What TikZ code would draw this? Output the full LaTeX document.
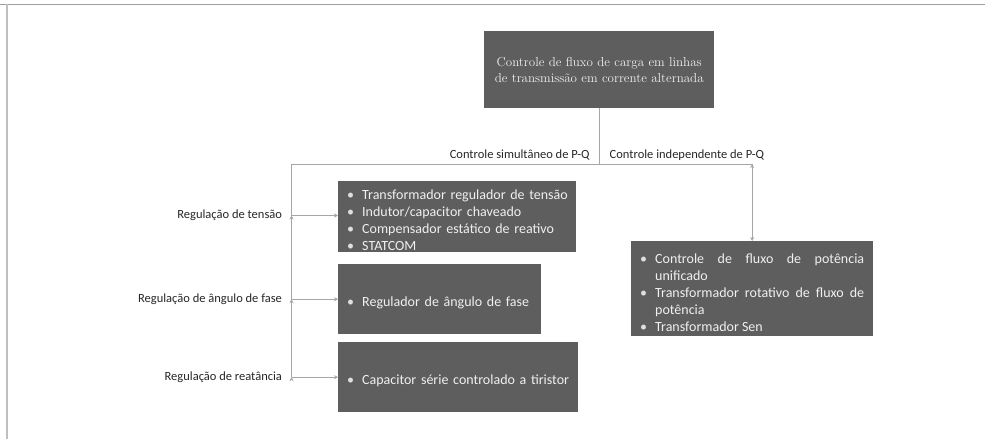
\documentclass[tikz,border=0pt]{standalone}
\usepackage{fontspec}
\setsansfont{Carlito}
\usepackage{enumitem}
\usetikzlibrary{positioning,arrows.meta}
\definecolor{boxgray}{HTML}{5E5E5E}
\definecolor{linegray}{HTML}{A6A6A6}
\hyphenpenalty=10000
\exhyphenpenalty=10000
\tolerance=9999
\setlist[itemize]{nosep,leftmargin=14pt,labelsep=8pt,rightmargin=-10pt,label=\textcolor{white!80!boxgray}{\textbullet}}
\tikzset{box/.style={fill=boxgray,text=white!94!black,anchor=north west,inner xsep=10pt,inner ysep=3pt,font=\sffamily\fontsize{14}{17}\selectfont},
lbl/.style={font=\sffamily\fontsize{12.5}{15}\selectfont,text=black!85},
link/.style={draw=linegray,line width=0.9pt,>={Stealth[length=4pt,width=4pt]}}}

\begin{document}
\begin{tikzpicture}[x=1pt,y=-1pt]
\useasboundingbox (0,0) rectangle (985,439);
\draw[gray!75,line width=1.2pt] (0,4.5) -- (985,4.5);
\draw[gray!50,line width=1.2pt] (7,4) -- (7,439);
\node[box,font=\rmfamily\fontsize{13}{16}\selectfont,text width=214pt,inner xsep=8pt,minimum height=77pt,align=center] (top) at (484,31) {Controle de fluxo de carga em linhas\\de transmissão em corrente alternada};
\node[box,text width=218pt,inner ysep=0.5pt,minimum height=71pt] (b1) at (338,181) {\begin{itemize}
\item Transformador regulador de tensão
\item Indutor/capacitor chaveado
\item Compensador estático de reativo
\item STATCOM
\end{itemize}};
\node[box,text width=183pt,minimum height=70pt] (b2) at (338,264) {\begin{itemize}
\item Regulador de ângulo de fase
\end{itemize}};
\node[box,text width=220pt,minimum height=70pt] (b3) at (338,342) {\begin{itemize}
\item Capacitor série controlado a tiristor
\end{itemize}};
\node[box,text width=224pt,inner xsep=9pt,minimum height=95pt,align=justify] (b4) at (631,241) {\begin{itemize}[leftmargin=15pt,rightmargin=0pt]
\item Controle de fluxo de potência unificado
\item Transformador rotativo de fluxo de potência
\item Transformador Sen
\end{itemize}};
\coordinate (j) at (top.south |- 0,164);
\coordinate (l) at (291.5,164);
\coordinate (r) at (b4.north |- 0,164);
\coordinate (t1) at (l |- 0,215.5);
\coordinate (t2) at (l |- b2.west);
\coordinate (t3) at (l |- b3.west);
\node[lbl,above left=0pt and 6pt of j] (s) {Controle simultâneo de P-Q};
\node[lbl,above right=0pt and 7pt of j] (i) {Controle independente de P-Q};
\node[lbl,left=6pt of t1] (r1) {Regulação de tensão};
\node[lbl,left=6pt of t2] (r2) {Regulação de ângulo de fase};
\node[lbl,left=6pt of t3] (r3) {Regulação de reatância};
\path[link] (top) edge (j);
\draw[link] (l) -- (r);
\draw[link] (l) -- (t3);
\path[link,->] (t1) edge (t1 -| b1.west);
\path[link,->] (t2) edge (b2);
\path[link,->] (t3) edge (b3);
\path[link,->] (r) edge (b4);
\end{tikzpicture}
\end{document}
